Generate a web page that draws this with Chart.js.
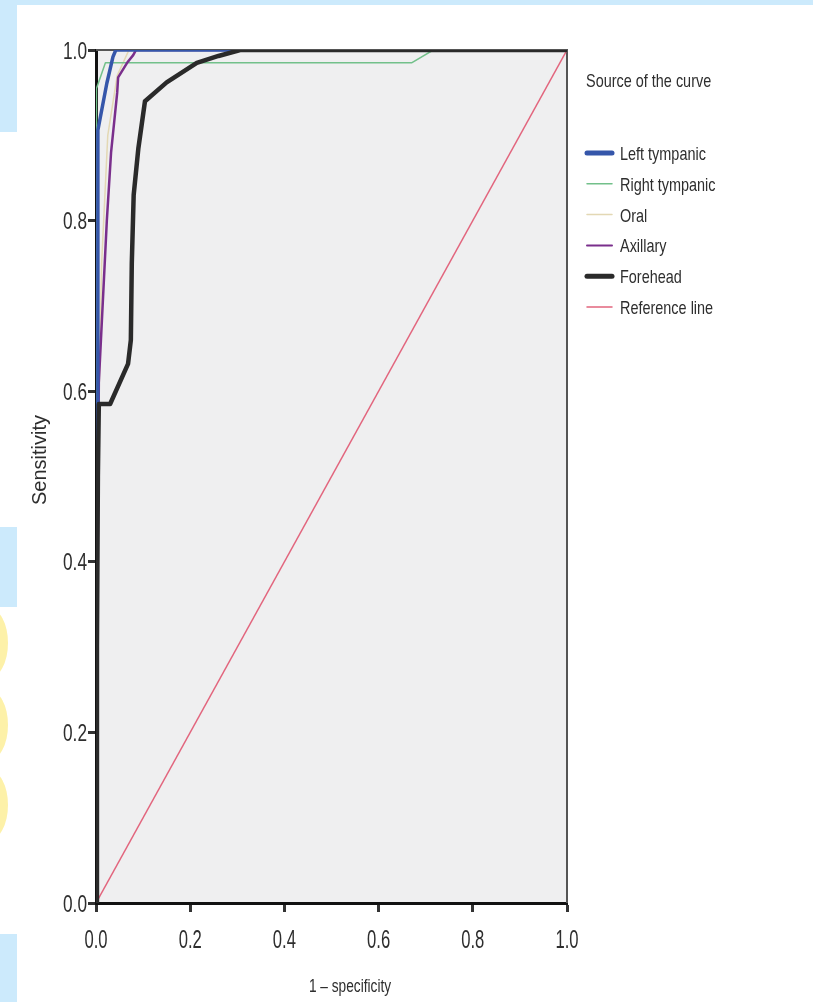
<!DOCTYPE html>
<html>
<head>
<meta charset="utf-8">
<title>ROC curves</title>
<script src="https://cdn.jsdelivr.net/npm/chart.js@4.4.1/dist/chart.umd.min.js"></script>
<style>
  html, body { margin: 0; padding: 0; background: #ffffff; }
  body { width: 813px; height: 1002px; position: relative; overflow: hidden; }
  .deco { position: absolute; }
  .blue { background: #cceafc; }
  .dot { background: #fdf1a8; border-radius: 50%; }
  #wrap { position: absolute; left: 0; top: 0; width: 813px; height: 1002px; }
</style>
</head>
<body>
<!-- page decorations around the figure -->
<div class="deco blue" style="left:0;top:0;width:813px;height:5px"></div>
<div class="deco blue" style="left:0;top:0;width:17px;height:132px"></div>
<div class="deco blue" style="left:0;top:527px;width:17px;height:80px"></div>
<div class="deco dot" style="left:-30px;top:608px;width:38px;height:70px"></div>
<div class="deco dot" style="left:-30px;top:690px;width:38px;height:70px"></div>
<div class="deco dot" style="left:-30px;top:770px;width:38px;height:70px"></div>
<div class="deco blue" style="left:0;top:934px;width:17px;height:68px"></div>

<div id="wrap"><canvas id="roc" width="813" height="1002"></canvas></div>

<script>
// ROC curves: 1 - specificity (x) vs sensitivity (y)
const seriesNames = ['Left tympanic', 'Right tympanic', 'Oral', 'Axillary', 'Forehead', 'Reference line'];
const seriesColors = ['#3556aa', '#72c08a', '#e3d8b4', '#7a2f8c', '#2a2a2a', '#e2657d'];
const seriesWidths = [3.5, 1.5, 1.5, 2.5, 4.5, 1.5];
const legendWidths = [5, 1.5, 1.5, 2, 5, 1.5];
const drawOrder = [1, 3, 4, 2, 0, 5]; // forehead sits on top

const leftTympanicX = [0, 0.002, 0.004, 0.004, 0.023, 0.036, 0.042, 1.0];
const leftTympanicY = [0, 0.40, 0.60, 0.906, 0.961, 0.992, 1.0, 1.0];

const rightTympanicX = [0, 0, 0.002, 0.020, 0.670, 0.716, 1.0];
const rightTympanicY = [0, 0.90, 0.955, 0.985, 0.985, 1.0, 1.0];

const oralX = [0, 0.003, 0.012, 0.025, 0.045, 0.070, 1.0];
const oralY = [0, 0.50, 0.75, 0.90, 0.97, 1.0, 1.0];

const axillaryX = [0, 0.002, 0.004, 0.006, 0.023, 0.032, 0.045, 0.047, 0.066, 0.079, 0.085, 1.0];
const axillaryY = [0, 0.30, 0.45, 0.61, 0.80, 0.88, 0.95, 0.968, 0.985, 0.994, 1.0, 1.0];

const foreheadX = [0, 0.002, 0.004, 0.006, 0.030, 0.068, 0.074, 0.076, 0.080, 0.090, 0.104, 0.150, 0.214, 0.260, 0.306, 1.0];
const foreheadY = [0, 0.30, 0.50, 0.585, 0.585, 0.632, 0.66, 0.75, 0.83, 0.885, 0.94, 0.962, 0.985, 0.993, 1.0, 1.0];

const referenceX = [0, 1.0];
const referenceY = [0, 1.0];

const tickValues = [0, 0.2, 0.4, 0.6, 0.8, 1.0];
const tickLabels = ['0.0', '0.2', '0.4', '0.6', '0.8', '1.0'];

const xTitle = '1 \u2013 specificity';
const yTitle = 'Sensitivity';
const legendTitle = 'Source of the curve';

const regular = "'Liberation Sans', Arial, sans-serif";

function toPoints(xs, ys) {
    return xs.map((x, i) => ({ x: x, y: ys[i] }));
}

const seriesData = [
    toPoints(leftTympanicX, leftTympanicY),
    toPoints(rightTympanicX, rightTympanicY),
    toPoints(oralX, oralY),
    toPoints(axillaryX, axillaryY),
    toPoints(foreheadX, foreheadY),
    toPoints(referenceX, referenceY)
];

// the figure uses a condensed face, so squeeze Liberation Sans sideways
function narrowText(ctx, text, x, y, size, squeeze, align) {
    ctx.save();
    ctx.translate(x, y);
    ctx.scale(squeeze, 1);
    ctx.font = size + 'px ' + regular;
    ctx.textAlign = align;
    ctx.textBaseline = 'alphabetic';
    ctx.fillText(text, 0, 0);
    ctx.restore();
}

// grey plot panel plus the thin top/right frame
const panelPlugin = {
    id: 'panel',
    beforeDraw(chart) {
        const a = chart.chartArea;
        const ctx = chart.ctx;
        ctx.save();
        ctx.fillStyle = '#efeff0';
        ctx.fillRect(a.left, a.top, a.right - a.left, a.bottom - a.top);
        ctx.restore();
    },
    beforeDatasetsDraw(chart) {
        const a = chart.chartArea;
        const ctx = chart.ctx;
        ctx.save();
        ctx.strokeStyle = '#555555';
        ctx.lineWidth = 2;
        ctx.beginPath();
        ctx.moveTo(a.left, a.top);
        ctx.lineTo(a.right, a.top);
        ctx.lineTo(a.right, a.bottom);
        ctx.stroke();
        ctx.restore();
    }
};

// tick labels, axis titles and the legend on the right
const textPlugin = {
    id: 'texts',
    afterDraw(chart) {
        const ctx = chart.ctx;
        const a = chart.chartArea;
        const xs = chart.scales.x;
        const ys = chart.scales.y;
        ctx.save();
        ctx.fillStyle = '#2e2e2e';

        tickValues.forEach((v, i) => {
            narrowText(ctx, tickLabels[i], 87, ys.getPixelForValue(v) + 8.5, 24, 0.72, 'right');
            narrowText(ctx, tickLabels[i], xs.getPixelForValue(v), a.bottom + 45, 26, 0.64, 'center');
        });

        narrowText(ctx, xTitle, 350, 992, 18, 0.76, 'center');

        ctx.save();
        ctx.translate(46, 460);
        ctx.rotate(-Math.PI / 2);
        ctx.font = '20px ' + regular;
        ctx.textAlign = 'center';
        ctx.textBaseline = 'alphabetic';
        ctx.fillText(yTitle, 0, 0);
        ctx.restore();

        const lx = a.right + 19;
        narrowText(ctx, legendTitle, lx, 87, 19, 0.76, 'left');

        seriesNames.forEach((name, i) => {
            const y = 153 + i * 30.8;
            ctx.strokeStyle = seriesColors[i];
            ctx.lineWidth = legendWidths[i];
            ctx.lineCap = 'round';
            ctx.beginPath();
            ctx.moveTo(lx + 1, y);
            ctx.lineTo(lx + 26, y);
            ctx.stroke();
            narrowText(ctx, name, lx + 34, y + 7, 19, 0.76, 'left');
        });
        ctx.restore();
    }
};

new Chart(document.getElementById('roc'), {
    type: 'line',
    data: {
        datasets: seriesNames.map((name, i) => ({
            label: name,
            data: seriesData[i],
            borderColor: seriesColors[i],
            backgroundColor: seriesColors[i],
            borderWidth: seriesWidths[i],
            pointRadius: 0,
            tension: 0,
            fill: false,
            borderJoinStyle: 'round',
            order: drawOrder[i]
        }))
    },
    options: {
        responsive: false,
        animation: false,
        layout: { padding: { top: 50, right: 246, bottom: 0, left: 0 } },
        plugins: {
            legend: { display: false },
            tooltip: { enabled: false }
        },
        scales: {
            x: {
                type: 'linear',
                min: 0,
                max: 1,
                afterBuildTicks: (s) => { s.ticks = tickValues.map(v => ({ value: v })); },
                afterFit: (s) => { s.height = 99; },
                border: { display: true, color: '#111111', width: 3 },
                grid: { drawOnChartArea: false, drawTicks: true, tickLength: 9, tickWidth: 3, tickColor: '#333333' },
                ticks: { display: false }
            },
            y: {
                type: 'linear',
                min: 0,
                max: 1,
                afterBuildTicks: (s) => { s.ticks = tickValues.map(v => ({ value: v })); },
                afterFit: (s) => { s.width = 96; },
                border: { display: true, color: '#111111', width: 3 },
                grid: { drawOnChartArea: false, drawTicks: true, tickLength: 8, tickWidth: 3, tickColor: '#333333' },
                ticks: { display: false }
            }
        }
    },
    plugins: [panelPlugin, textPlugin]
});
</script>
</body>
</html>
